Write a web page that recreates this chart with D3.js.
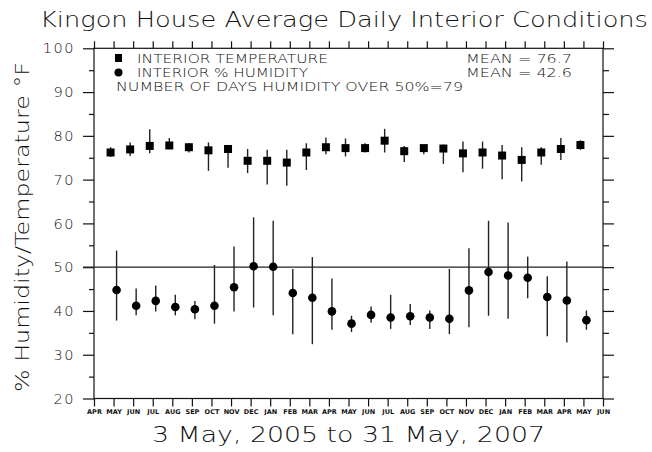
<!DOCTYPE html>
<html>
<head>
<meta charset="utf-8">
<script src="https://cdn.jsdelivr.net/npm/d3@7"></script>
<style>
  body { margin: 0; background: #fff; }
  svg { display: block; }
  text { font-family: "DejaVu Sans", sans-serif; fill: #111; }
</style>
</head>
<body>
<script>
// month ticks along the x axis, Apr 2005 .. Jun 2007
const monthLabels = ["APR","MAY","JUN","JUL","AUG","SEP","OCT","NOV","DEC","JAN","FEB","MAR",
    "APR","MAY","JUN","JUL","AUG","SEP","OCT","NOV","DEC","JAN","FEB","MAR","APR","MAY","JUN"]

// monthly values, May 2005 .. May 2007 (tick index 1..25)
const tempMean = [76.2,76.9,77.7,77.8,77.4,76.7,77.0,74.3,74.3,73.9,76.2,77.4,77.2,
    77.2,78.9,76.5,77.2,77.1,76.0,76.2,75.5,74.5,76.2,77.0,77.9]
const tempHi = [77.4,78.5,81.5,79.5,78.3,78.5,77.9,77.0,76.8,76.8,78.3,79.6,79.4,
    78.3,81.6,77.7,77.9,78.0,78.7,78.7,77.9,77.4,77.4,79.5,79.0]
const tempLo = [75.2,75.4,76.0,77.4,76.2,72.0,72.7,71.5,68.9,68.6,72.2,75.8,75.3,
    76.2,76.2,74.0,75.8,73.6,71.7,72.5,70.1,69.6,73.4,74.5,76.8]

const humMean = [44.8,41.2,42.3,40.9,40.4,41.2,45.4,50.2,50.1,44.1,43.0,39.9,37.1,
    39.1,38.5,38.8,38.5,38.2,44.7,48.9,48.1,47.6,43.2,42.4,37.9]
const humHi = [53.8,45.1,45.8,43.7,42.3,50.5,54.7,61.4,60.6,49.6,52.3,47.4,38.9,
    41.0,43.7,41.6,40.1,49.6,54.3,60.6,60.2,52.4,47.9,51.3,40.1]
const humLo = [37.8,39.0,39.9,39.0,38.1,37.1,39.9,40.8,39.0,34.7,32.4,35.7,35.2,
    37.3,35.9,36.8,35.9,34.7,36.3,38.9,38.2,42.9,34.2,32.8,35.7]

const yTicks = [20,25,30,35,40,45,50,55,60,65,70,75,80,85,90,95,100]
const refLine = 50
const legendRows = ["INTERIOR TEMPERATURE", "INTERIOR % HUMIDITY", "NUMBER OF DAYS HUMIDITY OVER 50%=79"]
const meanRows = ["MEAN = 76.7", "MEAN = 42.6"]

const W = 652, H = 452
const svg = d3.select('body').append('svg')
    .attr('width', W)
    .attr('height', H)

const x = d3.scaleLinear().domain([0, monthLabels.length - 1]).range([94, 603])
const y = d3.scaleLinear().domain([20, 100]).range([398.5, 48.3])

const temps = tempMean.map((v, i) => ({ m: i + 1, v, hi: tempHi[i], lo: tempLo[i] }))
const hums = humMean.map((v, i) => ({ m: i + 1, v, hi: humHi[i], lo: humLo[i] }))

// frame
svg.append('rect')
    .attr('x', x(0)).attr('y', y(100))
    .attr('width', x(monthLabels.length - 1) - x(0))
    .attr('height', y(20) - y(100))
    .attr('fill', 'none').attr('stroke', '#111').attr('stroke-width', 1.2)

// y axes, long ticks every 10, short every 5
function yAxis(g, side, big, small, labels) {
    const ax = (side === 'left' ? d3.axisLeft(y) : d3.axisRight(y))
        .tickValues(yTicks)
        .tickSize(0)
        .tickFormat(d => (labels && d % 10 === 0) ? d : '')
    g.call(ax)
    g.select('.domain').remove()
    g.selectAll('.tick line')
        .attr('x2', d => (side === 'left' ? -1 : 1) * (d % 10 === 0 ? big : small))
        .attr('stroke', '#111').attr('stroke-width', 1.2)
    g.selectAll('.tick text')
        .attr('x', -19)
        .style('font-size', '14.5px')
        .style('font-weight', 200)
        .style('letter-spacing', '1.5px')
        .attr('fill', '#111')
}
svg.append('g').attr('transform', `translate(${x(0)},0)`).call(yAxis, 'left', 11, 5, true)
svg.append('g').attr('transform', `translate(${x(26)},0)`).call(yAxis, 'right', 11, 6, false)

// month axes top and bottom
const xTop = svg.append('g').attr('transform', `translate(0,${y(100)})`)
    .call(d3.axisTop(x).tickValues(d3.range(monthLabels.length)).tickSize(7).tickFormat(''))
const xBot = svg.append('g').attr('transform', `translate(0,${y(20)})`)
    .call(d3.axisBottom(x).tickValues(d3.range(monthLabels.length)).tickSize(8).tickFormat(i => monthLabels[i]))
;[xTop, xBot].forEach(g => {
    g.select('.domain').remove()
    g.selectAll('.tick line').attr('stroke', '#111').attr('stroke-width', 1.2)
})
xBot.selectAll('.tick text')
    .attr('y', 11)
    .style('font-size', '6.5px')
    .style('font-weight', 'bold')
    .attr('fill', '#222')

// 50% humidity line
svg.append('line')
    .attr('x1', x(0) - 11).attr('x2', x(26))
    .attr('y1', y(refLine)).attr('y2', y(refLine))
    .attr('stroke', '#222').attr('stroke-width', 1.2)

const mainG = svg.append('g')

// temperature: bars + squares, nudged left of the tick
mainG.selectAll('line.t')
    .data(temps)
    .enter()
    .append('line')
    .attr('class', 't')
    .attr('x1', d => x(d.m) - 3).attr('x2', d => x(d.m) - 3)
    .attr('y1', d => y(d.hi)).attr('y2', d => y(d.lo))
    .attr('stroke', '#222').attr('stroke-width', 1.4)
mainG.selectAll('rect.t')
    .data(temps)
    .enter()
    .append('rect')
    .attr('class', 't')
    .attr('x', d => x(d.m) - 3 - 4)
    .attr('y', d => y(d.v) - 4)
    .attr('width', 8).attr('height', 8)
    .attr('fill', '#000')

// humidity: bars + dots, nudged right
mainG.selectAll('line.h')
    .data(hums)
    .enter()
    .append('line')
    .attr('class', 'h')
    .attr('x1', d => x(d.m) + 3).attr('x2', d => x(d.m) + 3)
    .attr('y1', d => y(d.hi)).attr('y2', d => y(d.lo))
    .attr('stroke', '#222').attr('stroke-width', 1.4)
mainG.selectAll('circle')
    .data(hums)
    .enter()
    .append('circle')
    .attr('cx', d => x(d.m) + 3)
    .attr('cy', d => y(d.v))
    .attr('r', 4.3)
    .attr('fill', '#000')

// legend
const leg = svg.append('g')
leg.append('rect').attr('x', 115).attr('y', 54).attr('width', 7).attr('height', 8).attr('fill', '#000')
leg.append('circle').attr('cx', 118.5).attr('cy', 72.5).attr('r', 4).attr('fill', '#000')
const rowY = [63, 77, 91], rowX = [137, 137, 116], rowLen = [191, 171, 347]
legendRows.forEach((t, i) => {
    leg.append('text')
        .attr('x', rowX[i]).attr('y', rowY[i])
        .attr('textLength', rowLen[i]).attr('lengthAdjust', 'spacingAndGlyphs')
        .style('font-size', '13px')
        .style('font-weight', 200)
        .text(t)
})
meanRows.forEach((t, i) => {
    leg.append('text')
        .attr('x', 466).attr('y', rowY[i])
        .attr('textLength', 106).attr('lengthAdjust', 'spacingAndGlyphs')
        .style('font-size', '13px')
        .style('font-weight', 200)
        .text(t)
})

// titles
svg.append('text')
    .attr('x', 40).attr('y', 27)
    .attr('textLength', 608).attr('lengthAdjust', 'spacingAndGlyphs')
    .style('font-size', '21px')
    .style('font-weight', 200)
    .text('Kingon House Average Daily Interior Conditions')

svg.append('text')
    .attr('x', 152).attr('y', 442)
    .attr('textLength', 393).attr('lengthAdjust', 'spacingAndGlyphs')
    .style('font-size', '21px')
    .style('font-weight', 200)
    .text('3 May, 2005 to 31 May, 2007')

svg.append('text')
    .attr('transform', 'translate(29,392) rotate(-90)')
    .attr('textLength', 330).attr('lengthAdjust', 'spacingAndGlyphs')
    .style('font-size', '19px')
    .style('font-weight', 200)
    .text('% Humidity/Temperature °F')
</script>
</body>
</html>
